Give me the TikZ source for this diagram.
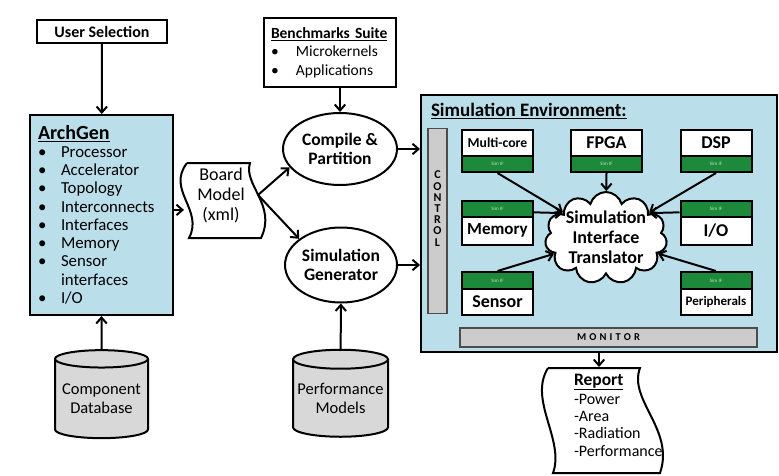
\documentclass[tikz,border=0pt]{standalone}
\usepackage{fontspec}
\setmainfont{Carlito}
\usepackage{xcolor}
\usepackage{tikz}
\usetikzlibrary{shapes,arrows.meta}
\definecolor{envblue}{RGB}{186,223,234}
\definecolor{simgreen}{RGB}{28,138,58}
\definecolor{bargray}{RGB}{204,204,204}
\definecolor{dbgray}{RGB}{216,216,216}
\tikzset{box/.style={rectangle,draw,line width=2pt,inner sep=2pt}}
\tikzset{oval/.style={ellipse,draw,line width=2pt,inner sep=0pt,align=center,font=\bfseries\fontsize{17.5}{19}\selectfont}}
\tikzset{db/.style={cylinder,shape border rotate=90,draw,line width=2pt,fill=dbgray,aspect=0.22,inner sep=0pt,align=center,font=\fontsize{16.5}{19}\selectfont}}
\tikzset{blk/.style={box,fill=white,minimum width=71pt,inner sep=0pt}}
\tikzset{simif/.style={box,fill=simgreen,text=white!75!simgreen,minimum width=71pt,inner sep=0pt,font=\fontsize{5}{5}\selectfont}}
\tikzset{bar/.style={draw=black!70,line width=1.2pt,fill=bargray,inner sep=0pt}}

\begin{document}
\begin{tikzpicture}[x=1pt,y=-1pt,>={Straight Barb[length=6pt,width=10.5pt]},line width=2pt]
    \useasboundingbox (0,0) rectangle (779,476);

    % left column
    \node[box,minimum width=130pt,minimum height=23pt,font=\bfseries\fontsize{16}{18}\selectfont] (usr) at (102,31.5) {User Selection};
    \node[box,fill=envblue,minimum width=143pt,minimum height=200pt,inner xsep=8pt,text width=127pt,align=left,font=\fontsize{16.8}{18.3}\selectfont] (arch) at (101.5,215) {{\bfseries\fontsize{20}{20}\selectfont\underline{ArchGen}}\\[-1pt]
        \makebox[23pt][l]{\textbullet}Processor\\
        \makebox[23pt][l]{\textbullet}Accelerator\\
        \makebox[23pt][l]{\textbullet}Topology\\
        \makebox[23pt][l]{\textbullet}Interconnects\\
        \makebox[23pt][l]{\textbullet}Interfaces\\
        \makebox[23pt][l]{\textbullet}Memory\\
        \makebox[23pt][l]{\textbullet}Sensor\\
        \makebox[23pt][l]{}interfaces\\
        \makebox[23pt][l]{\textbullet}I/O};
    \node[db,minimum width=93pt,minimum height=88pt] (cdb) at (101.5,399) {Component\\Database};

    % board model
    \draw[fill=white] (187,163) -- (250,163) .. controls (243,185) and (277,205) .. (261,238) -- (189,238) .. controls (204,210) and (166,190) .. (187,163);
    \node[align=center,inner sep=0pt,minimum width=72pt,minimum height=75pt,font=\fontsize{18}{20}\selectfont] (board) at (221,195) {Board\\Model\\(xml)};

    % middle column
    \node[box,minimum width=132pt,minimum height=69pt,inner xsep=7pt,text width=118pt,align=left,font=\fontsize{15.5}{18.5}\selectfont] (bench) at (330,52.5) {{\bfseries\underline{Benchmarks Suite}}\\
        \makebox[25pt][l]{\textbullet}Microkernels\\
        \makebox[25pt][l]{\textbullet}Applications};
    \node[oval,minimum width=114pt,minimum height=72pt] (comp) at (340,149) {Compile \&\\Partition};
    \node[oval,minimum width=112pt,minimum height=75pt] (simgen) at (341,265) {Simulation\\Generator};
    \node[db,minimum width=95pt,minimum height=87pt] (perf) at (340.5,398.5) {Performance\\Models};

    % simulation environment
    \node[box,fill=envblue,minimum width=356pt,minimum height=257pt] (env) at (599,223.5) {};
    \node[anchor=west,inner sep=0pt,font=\bfseries\fontsize{19}{21}\selectfont] (envtitle) at (430,111) {\underline{Simulation Environment:}};
    \node[bar,minimum width=19pt,minimum height=185pt] (ctrl) at (437.5,221) {};
    \node[align=center,inner sep=0pt,font=\bfseries\fontsize{12}{11.2}\selectfont] (ctrltxt) at (437.5,208.5) {C\\O\\N\\T\\R\\O\\L};
    \node[bar,minimum width=297pt,minimum height=19pt,font=\bfseries\fontsize{10.5}{11}\selectfont\addfontfeatures{LetterSpace=30}] (mon) at (608.5,337.5) {MONITOR};

    \node[blk,minimum height=26pt,font=\bfseries\fontsize{13.7}{15}\selectfont] (mc) at (497.5,143) {Multi-core};
    \node[simif,minimum height=16pt] (mcif) at (497.5,164) {Sim IF};
    \node[blk,minimum height=26pt,font=\bfseries\fontsize{18}{19}\selectfont] (fpga) at (606.5,143) {FPGA};
    \node[simif,minimum height=16pt] (fpgaif) at (606.5,164) {Sim IF};
    \node[blk,minimum height=26pt,font=\bfseries\fontsize{18}{19}\selectfont] (dsp) at (716,143) {DSP};
    \node[simif,minimum height=16pt] (dspif) at (716,164) {Sim IF};

    \node[simif,minimum height=16pt] (memif) at (497.5,208.5) {Sim IF};
    \node[blk,minimum height=28.5pt,font=\bfseries\fontsize{17}{19}\selectfont] (mem) at (497.5,230.75) {Memory};
    \node[simif,minimum height=16pt] (ioif) at (716,208.5) {Sim IF};
    \node[blk,minimum height=28.5pt,font=\bfseries\fontsize{18}{19}\selectfont] (io) at (716,230.75) {I/O};

    \node[simif,minimum height=17pt] (sensif) at (497.5,280.5) {Sim IF};
    \node[blk,minimum height=26pt,font=\bfseries\fontsize{18}{19}\selectfont] (sens) at (497.5,302) {Sensor};
    \node[simif,minimum height=17pt] (perif) at (716,280.5) {Sim IF};
    \node[blk,minimum height=26pt,font=\bfseries\fontsize{13}{14}\selectfont] (peri) at (716,302) {Peripherals};

    \node[cloud,cloud puffs=11,draw,fill=white,line width=2pt,minimum width=122pt,minimum height=92pt] (sit) at (606,238) {};
    \node[align=center,inner sep=0pt,font=\bfseries\fontsize{18}{20}\selectfont] (sittxt) at (606,237) {Simulation\\Interface\\Translator};

    % report
    \node[minimum width=120pt,minimum height=105pt] (rep) at (601,420.5) {};
    \draw[fill=white] (548,368) -- (640,368) .. controls (628,400) and (675,430) .. (660,473) -- (553,473) .. controls (565,440) and (528,400) .. (548,368);
    \node[anchor=north west,align=left,inner sep=0pt,font=\fontsize{16}{17.3}\selectfont] (reptxt) at (573,373) {{\bfseries\fontsize{17.5}{18}\selectfont\underline{Report}}\\[1.5pt]-Power\\-Area\\-Radiation\\-Performance};

    \draw [->] (usr) to [] (arch);
    \draw [->] (cdb) to [] (arch);
    \draw [->] (arch.4) to [] (arch.4 -| board.west);
    \draw [->] (board.east) to [] (comp.200);
    \draw [->] (board.east) to [] (simgen.148);
    \draw [->] (bench.south -| comp.north) to [] (comp.north);
    \draw [->] (perf) to [] (simgen);
    \draw [->] (comp.east) to [] (comp.east -| env.west);
    \draw [->] (simgen.east) to [] (simgen.east -| env.west);
    \draw [->] (env.south) to [] (env.south |- rep.north);
    \draw [->] (mcif.south) to [] (sit);
    \draw [->] (fpgaif.south) to [] (sit);
    \draw [->] (dspif.south) to [] (sit);
    \draw [->] (memif.-6) to [] (sit.150);
    \draw [->] (ioif.186) to [] (sit.30);
    \draw [->] (sensif.north) to [] (sit);
    \draw [->] (perif.north) to [] (sit);
\end{tikzpicture}
\end{document}
